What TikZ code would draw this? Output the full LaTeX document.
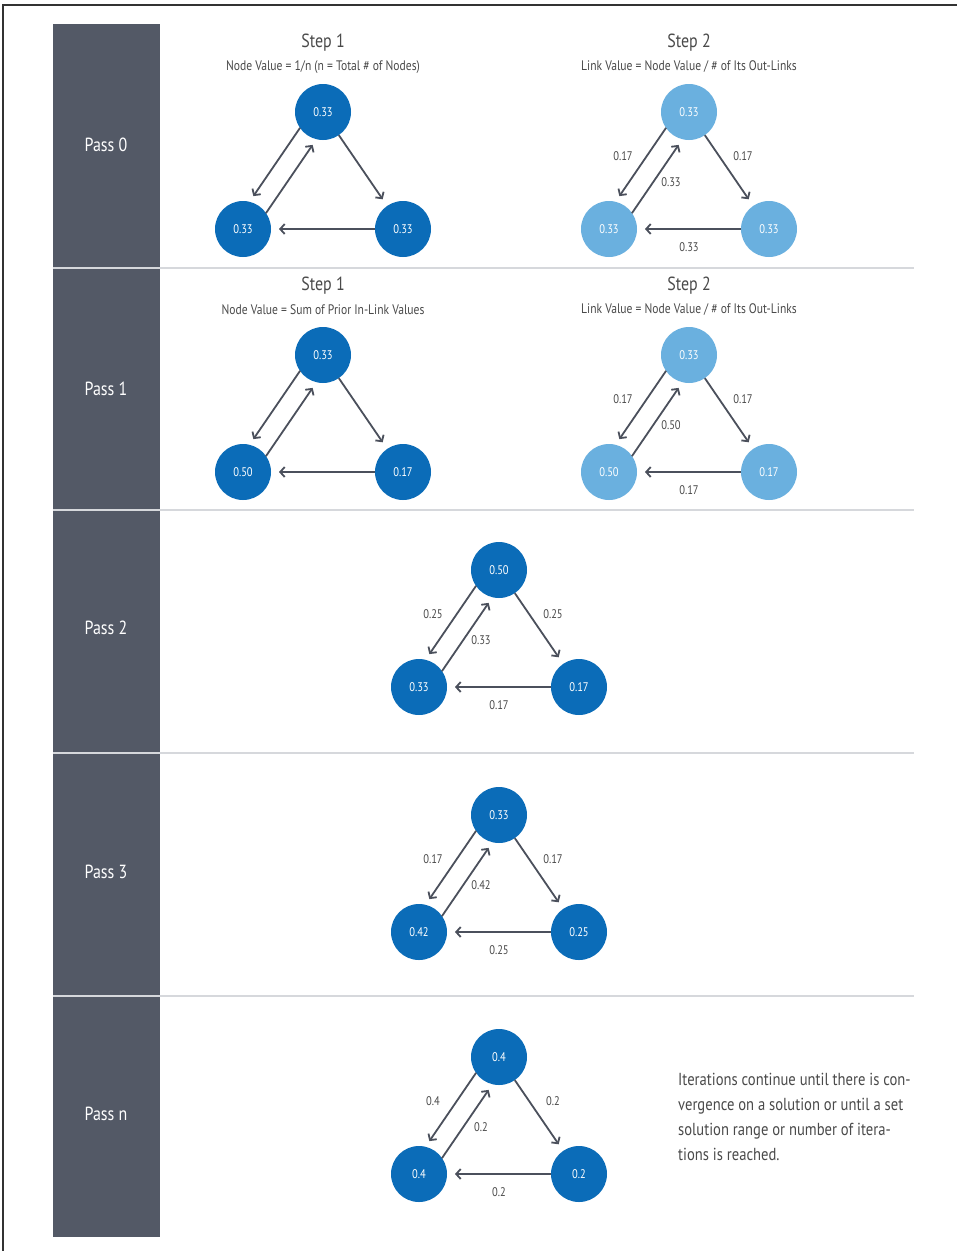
\documentclass[tikz,border=0pt]{standalone}
\usepackage{fontspec}
\setmainfont{PT Sans}[FakeStretch=0.84]
\usetikzlibrary{arrows.meta,calc}
\definecolor{side}{HTML}{535966}
\definecolor{dblue}{HTML}{0B6CB8}
\definecolor{lblue}{HTML}{6AB0DF}
\definecolor{arrgray}{HTML}{4B505C}
\definecolor{txtgray}{HTML}{4A4A4A}
\definecolor{sepgray}{HTML}{D6D8DC}
\tikzset{
  nd/.style={circle, minimum size=56pt, inner sep=0pt, outer sep=0pt, text=white, font=\fontsize{12.5}{14}\selectfont},
  dnode/.style={nd, fill=dblue},
  lnode/.style={nd, fill=lblue},
  arr/.style={draw=arrgray, line width=1.8pt, -{Straight Barb[length=4.5pt,width=10pt]}},
  elbl/.style={text=txtgray, font=\fontsize{12.5}{14}\selectfont, inner sep=0pt},
  steptitle/.style={text=txtgray, font=\fontsize{19}{20}\selectfont, inner sep=0pt},
  stepsub/.style={text=txtgray, font=\fontsize{13.8}{15}\selectfont, inner sep=0pt},
  passlbl/.style={text=white, font=\fontsize{19}{20}\selectfont, inner sep=0pt},
  seprule/.style={draw=sepgray, line width=1.2pt},
  frame/.style={draw=black!80, line width=1.5pt}
}
\newcommand{\tri}[7]{%
  \node[#4] (#1t) at (#2,#3) {#5};
  \node[#4] (#1l) at (#2-80,#3+117) {#6};
  \node[#4] (#1r) at (#2+80,#3+117) {#7};
  \draw[arr, shorten <=26pt, shorten >=33pt] ($(#1t)!10pt!-90:(#1l)$) -- ($(#1l)!10pt!90:(#1t)$);
  \draw[arr, shorten <=26pt, shorten >=33pt] ($(#1l)!10pt!-90:(#1t)$) -- ($(#1t)!10pt!90:(#1l)$);
  \draw[arr, shorten >=8pt] (#1t) -- (#1r);
  \draw[arr, shorten >=8pt] (#1r) -- (#1l);
}
\newcommand{\trilab}[7]{%
  \node[elbl] (#1a) at (#2-66,#3+44) {#4};
  \node[elbl] (#1b) at (#2+54,#3+44) {#5};
  \node[elbl] (#1c) at (#2-18,#3+70) {#6};
  \node[elbl] (#1d) at (#2,#3+135) {#7};
}
\begin{document}
\begin{tikzpicture}[x=1pt,y=-1pt]
\useasboundingbox (0,0) rectangle (957,1251);
\fill[white] (0,0) rectangle (957,1251);
\draw[frame] (3,1251) -- (3,5) -- (957,5);
\fill[side] (53,24) rectangle (160,1237);
\foreach \yy in {268,510,753,996} {\draw[seprule] (53,\yy) -- (914,\yy);}

\node[passlbl] (p0) at (106,145) {Pass 0};
\node[passlbl] (p1) at (106,389) {Pass 1};
\node[passlbl] (p2) at (106,628) {Pass 2};
\node[passlbl] (p3) at (106,872) {Pass 3};
\node[passlbl] (pn) at (106,1114) {Pass n};

% Pass 0
\node[steptitle] (a1) at (323,43) {Step 1};
\node[stepsub] (a1s) at (323,67) {Node Value = 1/n (n = Total \# of Nodes)};
\node[steptitle] (a2) at (689,43) {Step 2};
\node[stepsub] (a2s) at (689,67) {Link Value = Node Value / \# of Its Out-Links};
\tri{pa}{323}{112}{dnode}{0.33}{0.33}{0.33}
\tri{pb}{689}{112}{lnode}{0.33}{0.33}{0.33}
\trilab{pb}{689}{112}{0.17}{0.17}{0.33}{0.33}

% Pass 1
\node[steptitle] (b1) at (323,286) {Step 1};
\node[stepsub] (b1s) at (323,310) {Node Value = Sum of Prior In-Link Values};
\node[steptitle] (b2) at (689,286) {Step 2};
\node[stepsub] (b2s) at (689,310) {Link Value = Node Value / \# of Its Out-Links};
\tri{qa}{323}{355}{dnode}{0.33}{0.50}{0.17}
\tri{qb}{689}{355}{lnode}{0.33}{0.50}{0.17}
\trilab{qb}{689}{355}{0.17}{0.17}{0.50}{0.17}

% Pass 2
\tri{ra}{499}{570}{dnode}{0.50}{0.33}{0.17}
\trilab{ra}{499}{570}{0.25}{0.25}{0.33}{0.17}

% Pass 3
\tri{sa}{499}{815}{dnode}{0.33}{0.42}{0.25}
\trilab{sa}{499}{815}{0.17}{0.17}{0.42}{0.25}

% Pass n
\tri{ta}{499}{1057}{dnode}{0.4}{0.4}{0.2}
\trilab{ta}{499}{1057}{0.4}{0.2}{0.2}{0.2}

\node[text=txtgray, font=\fontsize{17.4}{25}\selectfont, align=left, anchor=north west, inner sep=0pt] (note) at (678,1073)
{Iterations continue until there is con-\\vergence on a solution or until a set\\solution range or number of itera-\\tions is reached.};
\end{tikzpicture}
\end{document}
